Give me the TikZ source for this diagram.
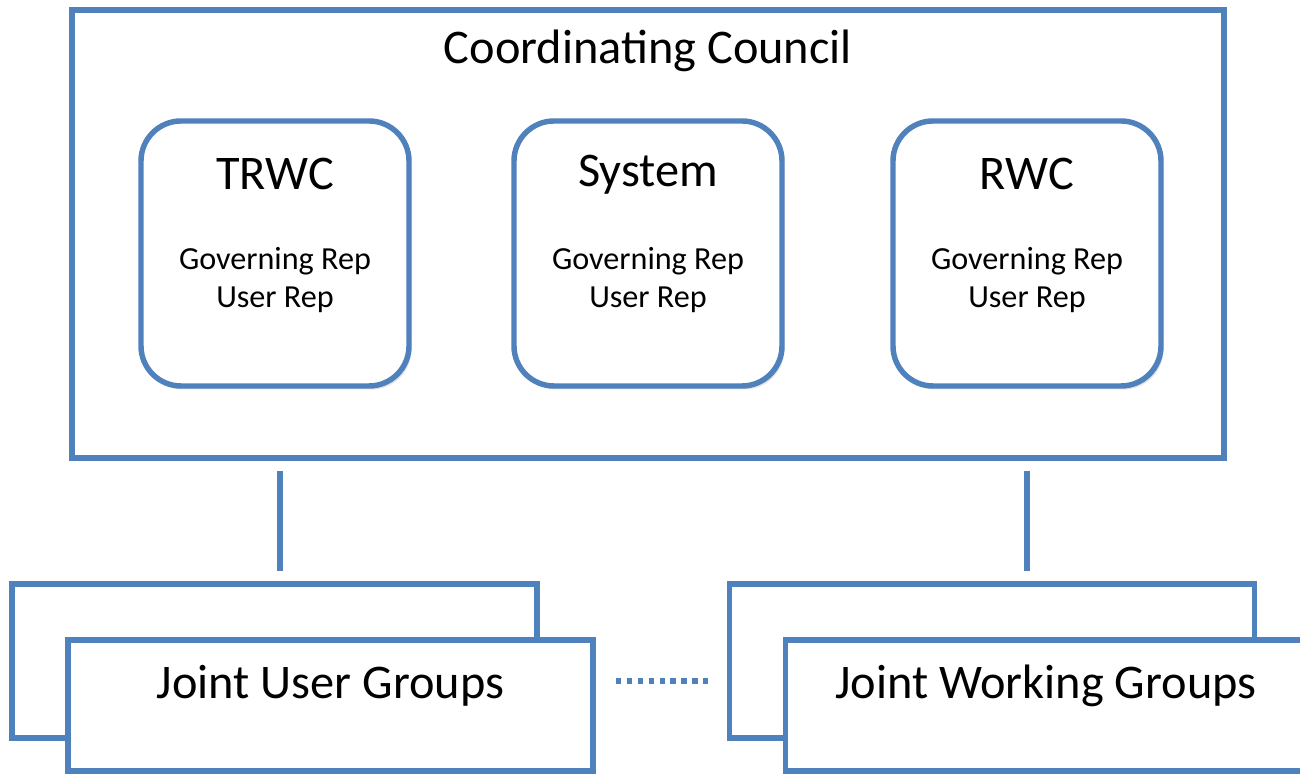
\documentclass[tikz,border=0pt]{standalone}
\usepackage{fontspec}
\setmainfont{Carlito}
\usetikzlibrary{positioning,shadows}
\definecolor{boxblue}{RGB}{79,129,189}

\begin{document}
\begin{tikzpicture}[
  frame/.style={draw=boxblue,line width=3.1pt,fill=white,
    drop shadow={shadow xshift=0.05cm,shadow yshift=-0.07cm,opacity=0.22}},
  council/.style={frame,minimum width=23.04cm,minimum height=8.96cm},
  member/.style={frame,rounded corners=0.8cm,minimum width=5.36cm,minimum height=5.3cm},
  groupback/.style={frame,minimum width=10.5cm,minimum height=3.08cm},
  groupfront/.style={frame,minimum width=10.5cm,minimum height=2.62cm},
  bigtext/.style={font=\fontsize{27.5}{33}\selectfont},
  reptext/.style={align=center,font=\fontsize{18.3}{21.5}\selectfont},
  link/.style={draw=boxblue,line width=3.1pt,shorten <=0.2cm,shorten >=0.2cm},
  dots/.style={draw=boxblue,line width=3pt,dash pattern=on 3pt off 3.2pt}
]
\useasboundingbox (0,0) rectangle (26,15.48);
\clip (0,0) rectangle (26,15.48);

% council with its three members
\node[council] (council) at (12.96,10.80) {};
\node[bigtext] (cctitle) at ([yshift=-0.88cm]council.north) {Coordinating Council};

\node[member] (trwc) at (5.50,10.41) {};
\node[member] (system) at (12.96,10.41) {};
\node[member] (rwc) at (20.54,10.41) {};

\node[bigtext] (trwcname) at ([yshift=-1.12cm]trwc.north) {TRWC};
\node[bigtext] (systemname) at ([yshift=-1.12cm]system.north) {System};
\node[bigtext] (rwcname) at ([yshift=-1.12cm]rwc.north) {RWC};

\node[reptext] (trwcreps) at ([yshift=-3.24cm]trwc.north) {Governing Rep\\User Rep};
\node[reptext] (systemreps) at ([yshift=-3.24cm]system.north) {Governing Rep\\User Rep};
\node[reptext] (rwcreps) at ([yshift=-3.24cm]rwc.north) {Governing Rep\\User Rep};

% stacked group boxes
\node[groupback] (jugback) at (5.49,2.26) {};
\node[groupfront] (jugfront) at (6.61,1.37) {};
\node[groupback] (jwgback) at (19.84,2.26) {};
\node[groupfront] (jwgfront) at (20.96,1.37) {};

\node[bigtext] (jugname) at ([yshift=0.40cm]jugfront.center) {Joint User Groups};
\node[bigtext] (jwgname) at ([xshift=-0.04cm,yshift=0.40cm]jwgfront.center) {Joint Working Groups};

\draw[link] ([xshift=0.1cm]trwc |- council.south) -- ([xshift=0.1cm]trwc |- jugback.north);
\draw[link] (rwc |- council.south) -- (rwc |- jwgback.north);

\coordinate (dotl) at (12.32,1.86);
\coordinate (dotr) at (14.16,1.86);
\draw[dots] (dotl) -- (dotr);
\end{tikzpicture}
\end{document}
